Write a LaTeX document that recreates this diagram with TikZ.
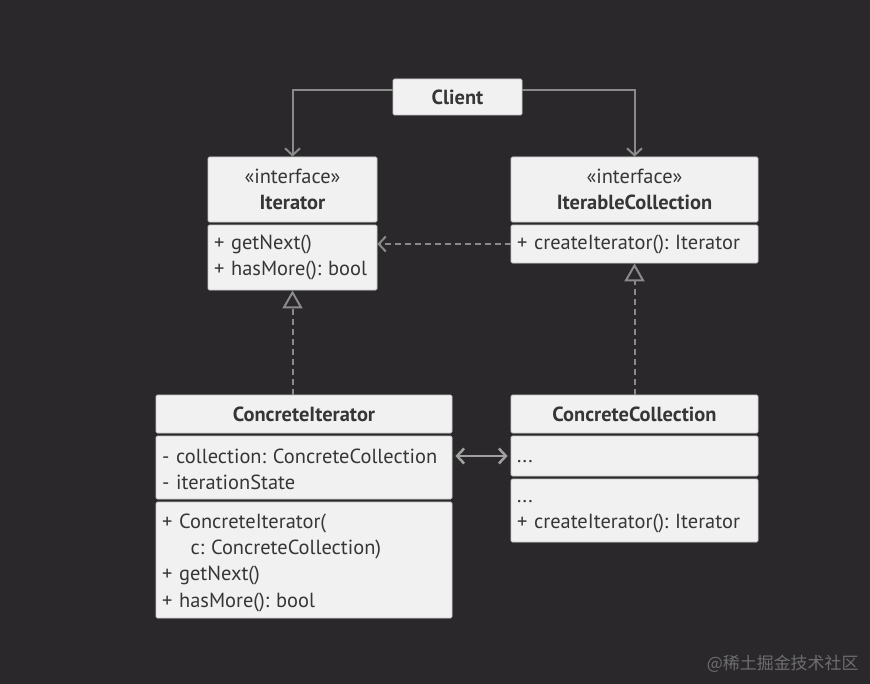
\documentclass[tikz,border=0pt]{standalone}
\usepackage{fontspec}
\setmainfont{PT Sans}
\newfontfamily\cjk{Noto Sans CJK SC}
\usetikzlibrary{arrows.meta}
\frenchspacing

\definecolor{bg}{HTML}{2A282B}
\definecolor{boxfill}{HTML}{F1F1F1}
\definecolor{boxline}{HTML}{C9C9C9}
\definecolor{ink}{HTML}{363636}
\definecolor{wire}{HTML}{8A8A8A}
\definecolor{mark}{HTML}{6E6E6E}

\begin{document}
\begin{tikzpicture}[x=1bp, y=-1bp,
		>={Straight Barb[length=7bp, width=15bp]},
		box/.style={draw=boxline, fill=boxfill, line width=0.8bp, rounded corners=1.5bp,
				inner xsep=6bp, inner ysep=0pt, text=ink, font=\fontsize{20.5}{26.5}\selectfont},
		head/.style={box, align=center},
		part/.style={box, align=left},
		link/.style={draw=wire, line width=2bp},
		realize/.style={link, dash pattern=on 6bp off 4bp,
				-{Triangle[open, length=18bp, width=20bp, line width=2bp]}}]
	\fill[bg] (0,0) rectangle (870,684);

	\node [head, minimum width=129bp, minimum height=36bp] (client) at (457.5,97) {\textbf{Client}};

	% interfaces
	\node [head, minimum width=169bp, minimum height=65bp] (itHead) at (292.5,189.5)
	{«interface»\\\textbf{Iterator}};
	\node [part, minimum width=169bp, minimum height=65bp, text width=157bp] (itBody) at (292.5,257.5)
	{+ getNext()\\+ hasMore(): bool};

	\node [head, minimum width=247bp, minimum height=65bp] (icHead) at (634.5,189.5)
	{«interface»\\\textbf{IterableCollection}};
	\node [part, minimum width=247bp, minimum height=38bp, text width=235bp] (icBody) at (634.5,244)
	{+ createIterator(): Iterator};

	% concrete classes
	\node [head, minimum width=296bp, minimum height=38bp] (ciHead) at (304,414) {\textbf{ConcreteIterator}};
	\node [part, minimum width=296bp, minimum height=63bp, text width=284bp] (ciAttr) at (304,467.5)
	{\rule{0pt}{18bp}- collection: ConcreteCollection\\- iterationState};
	\node [part, minimum width=296bp, minimum height=116bp, text width=284bp] (ciOps) at (304,560)
	{\rule{0pt}{20bp}+ ConcreteIterator(\\\hspace*{1.4em}c: ConcreteCollection)\\+ getNext()\\+ hasMore(): bool};

	\node [head, minimum width=247bp, minimum height=38bp] (ccHead) at (634.5,414) {\textbf{ConcreteCollection}};
	\node [part, minimum width=247bp, minimum height=40bp, text width=235bp] (ccAttr) at (634.5,456)
	{\rule{0pt}{14bp}...};
	\node [part, minimum width=247bp, minimum height=63bp, text width=235bp] (ccOps) at (634.5,510.5)
	{\rule{0pt}{14bp}...\\+ createIterator(): Iterator};

	% connectors
	\draw[link, ->] ([yshift=7bp]client.west) -| (itHead.north);
	\draw[link, ->] ([yshift=7bp]client.east) -| (icHead.north);
	\draw[link, ->, dash pattern=on 6bp off 4bp] (icBody.west) -- (icBody.west -| itBody.east);
	\draw[realize] (itBody.south |- ciHead.north) -- (itBody.south);
	\draw[realize] (ccHead.north) -- (icBody.south);
	\draw[link, line width=2.5bp, wire!80!white, <->, shorten <=3bp, shorten >=3bp]
	(ccAttr.west) -- (ccAttr.west -| ciAttr.east);

	\node [anchor=east, text=mark, font=\cjk\fontsize{17}{20}\selectfont] (mark) at (862,664) {@稀土掘金技术社区};
\end{tikzpicture}
\end{document}
